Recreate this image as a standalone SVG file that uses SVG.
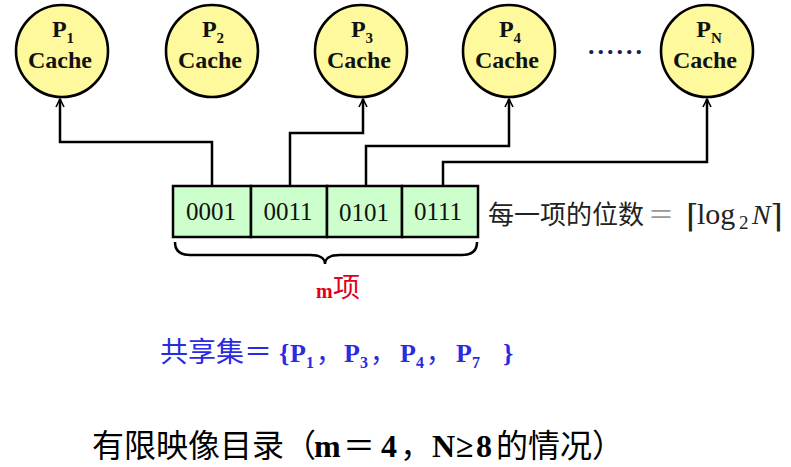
<svg xmlns="http://www.w3.org/2000/svg" width="791" height="467" viewBox="0 0 791 467">
<style>
.node circle{fill:#fdf99c;stroke:#000;stroke-width:2.6}
.lbl{font-family:"Liberation Serif",serif;font-weight:bold;fill:#111;text-anchor:middle}
.cell{fill:#ccffcc;stroke:#000;stroke-width:2.5}
.num{font-family:"Liberation Serif",serif;font-size:25px;fill:#111;text-anchor:middle}
.conn{fill:none;stroke:#000;stroke-width:2.5}
.cn{font-family:"Noto Sans CJK SC",sans-serif}
.ser{font-family:"Liberation Serif",serif}
</style>
<defs>
<marker id="arr" viewBox="0 0 10 10" refX="9" refY="5" markerWidth="10" markerHeight="10" markerUnits="userSpaceOnUse" orient="auto">
<path d="M1,1 L9,5 L1,9" fill="none" stroke="#000" stroke-width="1.6"/>
</marker>
</defs>
<rect width="791" height="467" fill="#fff"/>

<g id="p1" class="node"><circle cx="62" cy="51" r="46"/>
<text class="lbl" x="63" y="37" font-size="24">P<tspan font-size="15" dy="6">1</tspan></text>
<text class="lbl" x="60" y="68" font-size="24">Cache</text></g>
<g id="p2" class="node"><circle cx="212" cy="51" r="46"/>
<text class="lbl" x="213" y="37" font-size="24">P<tspan font-size="15" dy="6">2</tspan></text>
<text class="lbl" x="210" y="68" font-size="24">Cache</text></g>
<g id="p3" class="node"><circle cx="361" cy="51" r="46"/>
<text class="lbl" x="362" y="37" font-size="24">P<tspan font-size="15" dy="6">3</tspan></text>
<text class="lbl" x="359" y="68" font-size="24">Cache</text></g>
<g id="p4" class="node"><circle cx="509" cy="51" r="46"/>
<text class="lbl" x="510" y="37" font-size="24">P<tspan font-size="15" dy="6">4</tspan></text>
<text class="lbl" x="507" y="68" font-size="24">Cache</text></g>
<g id="pn" class="node"><circle cx="707" cy="51" r="46"/>
<text class="lbl" x="709" y="37" font-size="24">P<tspan font-size="15" dy="6">N</tspan></text>
<text class="lbl" x="705" y="68" font-size="24">Cache</text></g>

<text x="588" y="54" class="ser" font-size="26" font-weight="bold" fill="#1a2050" letter-spacing="3">......</text>

<g id="dir">
<rect class="cell" x="173" y="186" width="78" height="51"/>
<rect class="cell" x="251" y="186" width="76" height="51"/>
<rect class="cell" x="327" y="186" width="75" height="51"/>
<rect class="cell" x="402" y="186" width="76" height="51"/>
<text class="num" x="211" y="220">0001</text>
<text class="num" x="288" y="220">0011</text>
<text class="num" x="364" y="221">0101</text>
<text class="num" x="438" y="220">0111</text>
</g>

<g id="connectors">
<path class="conn" d="M212,186 V142 H60 V99" marker-end="url(#arr)"/>
<path class="conn" d="M290,186 V133 H363 V99" marker-end="url(#arr)"/>
<path class="conn" d="M366,186 V146 H509 V99" marker-end="url(#arr)"/>
<path class="conn" d="M443,186 V162 H707 V99" marker-end="url(#arr)"/>
</g>

<g id="bits">
<text class="cn" x="488" y="224" font-size="26" fill="#222">每一项的位数</text>
<text class="cn" x="648" y="224" font-size="26" fill="#999">＝</text>
<text x="686" y="227" font-family="DejaVu Serif,serif" font-size="32" fill="#222">⌈</text>
<text class="ser" x="697" y="224" font-size="30" fill="#222">log</text>
<text class="ser" x="739" y="229" font-size="19" fill="#222">2</text>
<text class="ser" x="752" y="224" font-size="28" font-style="italic" fill="#222">N</text>
<text x="770" y="227" font-family="DejaVu Serif,serif" font-size="32" fill="#222">⌉</text>
</g>

<g id="brace">
<path class="conn" d="M175,242 Q175,255 190,255 H310 Q325,255 325,264 Q325,255 340,255 H462 Q477,255 477,242"/>
<text x="316" y="298" class="ser" font-size="20" font-weight="bold" fill="#e00020">m</text>
<text x="333" y="297" class="cn" font-size="27" fill="#e00020">项</text>
</g>

<g id="shared" fill="#2a2ae0">
<text class="cn" x="160" y="362" font-size="28">共享集＝</text>
<text class="ser" x="279" y="362" font-size="26" font-weight="bold">{</text>
<text class="ser" x="290" y="362" font-size="26" font-weight="bold">P</text>
<text class="ser" x="306" y="368" font-size="16" font-weight="bold">1</text>
<text class="cn" x="316" y="362" font-size="26">，</text>
<text class="ser" x="344" y="362" font-size="26" font-weight="bold">P</text>
<text class="ser" x="360" y="368" font-size="16" font-weight="bold">3</text>
<text class="cn" x="370" y="362" font-size="26">，</text>
<text class="ser" x="400" y="362" font-size="26" font-weight="bold">P</text>
<text class="ser" x="416" y="368" font-size="16" font-weight="bold">4</text>
<text class="cn" x="426" y="362" font-size="26">，</text>
<text class="ser" x="456" y="362" font-size="26" font-weight="bold">P</text>
<text class="ser" x="472" y="368" font-size="16" font-weight="bold">7</text>
<text class="ser" x="503" y="362" font-size="26" font-weight="bold">}</text>
</g>

<g id="title" fill="#000">
<text class="cn" x="92" y="457" font-size="32">有限映像目录（</text>
<text class="ser" x="314" y="457" font-size="32" font-weight="bold">m</text>
<text class="cn" x="343" y="457" font-size="32">＝</text>
<text class="ser" x="381" y="457" font-size="32" font-weight="bold">4</text>
<text class="cn" x="400" y="457" font-size="32">，</text>
<text class="ser" x="432" y="457" font-size="32" font-weight="bold">N</text>
<text class="ser" x="456" y="457" font-size="32" font-weight="bold">≥</text>
<text class="ser" x="476" y="457" font-size="32" font-weight="bold">8</text>
<text class="cn" x="496" y="457" font-size="32">的情况）</text>
</g>
</svg>
